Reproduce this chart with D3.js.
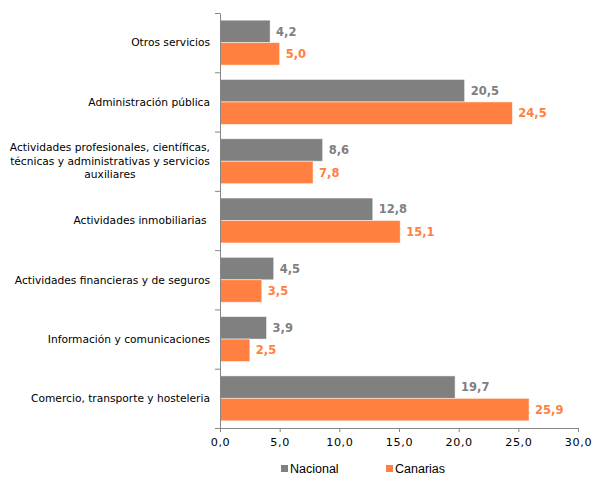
<!DOCTYPE html>
<html><head><meta charset="utf-8">
<script src="https://cdn.jsdelivr.net/npm/d3@7"></script>
<style>body{margin:0;background:#fff}svg{display:block}</style>
</head><body>
<svg id="c" width="598" height="477"></svg>
<script>
const categories = [
  "Otros servicios",
  "Administración pública",
  "Actividades profesionales, científicas,|técnicas y administrativas y servicios|auxiliares",
  "Actividades inmobiliarias ",
  "Actividades financieras y de seguros",
  "Información y comunicaciones",
  "Comercio, transporte y hosteleria"
];
const seriesNames = ["Nacional", "Canarias"];
const nacional = [4.2, 20.5, 8.6, 12.8, 4.5, 3.9, 19.7];
const canarias = [5.0, 24.5, 7.8, 15.1, 3.5, 2.5, 25.9];
const xTicks = [0, 5, 10, 15, 20, 25, 30];
const colors = ["#808080", "#ff8040"];
const labelColors = ["#808080", "#ff8040"];

const svg = d3.select("#c");
const mLeft = 220, mRight = 578, mTop = 13, mBottom = 428;
const x = d3.scaleLinear().domain([0, 30]).range([mLeft, mRight]);
const y0 = d3.scaleBand().domain(categories).range([mTop, mBottom]).padding(0);
const y1 = d3.scaleBand().domain(seriesNames).range([0, y0.bandwidth()]).paddingInner(0).paddingOuter(0.32);
const fmt = v => v.toFixed(1).replace(".", ",");
const values = [nacional, canarias];

// bars
categories.forEach((c, i) => {
  seriesNames.forEach((s, j) => {
    const v = values[j][i];
    svg.append("rect")
      .attr("x", x(0)).attr("y", y0(c) + y1(s))
      .attr("width", x(v) - x(0)).attr("height", y1.bandwidth())
      .attr("fill", colors[j]).attr("stroke", "#fff").attr("stroke-opacity", 0.6).attr("stroke-width", 0.8);
    svg.append("text")
      .attr("x", x(v) + 6).attr("y", y0(c) + y1(s) + y1.bandwidth() / 2)
      .attr("dy", "0.36em")
      .attr("font-family", "DejaVu Sans").attr("font-weight", "bold").attr("font-size", 11.5)
      .attr("fill", labelColors[j]).text(fmt(v));
  });
});

// axes
const axisColor = "#868686";
const gx = svg.append("g").attr("transform", `translate(0,${mBottom})`)
  .call(d3.axisBottom(x).tickValues(xTicks).tickFormat(fmt).tickSize(4).tickSizeOuter(0));
gx.select(".domain").attr("stroke", axisColor);
gx.selectAll(".tick line").attr("stroke", axisColor);
gx.selectAll(".tick text").attr("font-family", "DejaVu Sans").attr("font-size", 11.2)
  .attr("fill", "#000").attr("dy", "1.0em").attr("letter-spacing", 0.6);

const gy = svg.append("g").attr("transform", `translate(${mLeft},0)`)
  .call(d3.axisLeft(y0).tickSize(0).tickFormat(""));
gy.select(".domain").attr("stroke", axisColor);
gy.selectAll(".tick").remove();
// category boundary ticks
const bounds = categories.map(c => y0(c)).concat([mBottom]);
svg.append("g").selectAll("line").data(bounds).join("line")
  .attr("x1", mLeft - 5).attr("x2", mLeft).attr("y1", d => d + 0.5).attr("y2", d => d + 0.5)
  .attr("stroke", axisColor);

// category labels
categories.forEach(c => {
  const lines = c.split("|");
  const g = svg.append("g");
  const lh = 13.5;
  const cy = y0(c) + y0.bandwidth() / 2;
  const ts = lines.map((ln, k) => g.append("text")
    .attr("y", cy + (k - (lines.length - 1) / 2) * lh).attr("dy", "0.35em")
    .attr("font-family", "DejaVu Sans").attr("font-size", 10.67)
    .attr("fill", "#000").attr("text-anchor", "middle")
    .style("white-space", "pre").text(ln));
  const w = d3.max(ts, t => t.node().getComputedTextLength());
  ts.forEach(t => t.attr("x", 210 - w / 2));
});

// legend
const legend = [{name: "Nacional", x: 281}, {name: "Canarias", x: 386}];
legend.forEach((l, j) => {
  svg.append("rect").attr("x", l.x).attr("y", 465).attr("width", 7).attr("height", 7).attr("fill", colors[j]);
  svg.append("text").attr("x", l.x + 9).attr("y", 468.5).attr("dy", "0.36em")
    .attr("font-family", "Liberation Sans").attr("font-size", 12.5).attr("fill", "#000").text(seriesNames[j]);
});
</script>
</body></html>
